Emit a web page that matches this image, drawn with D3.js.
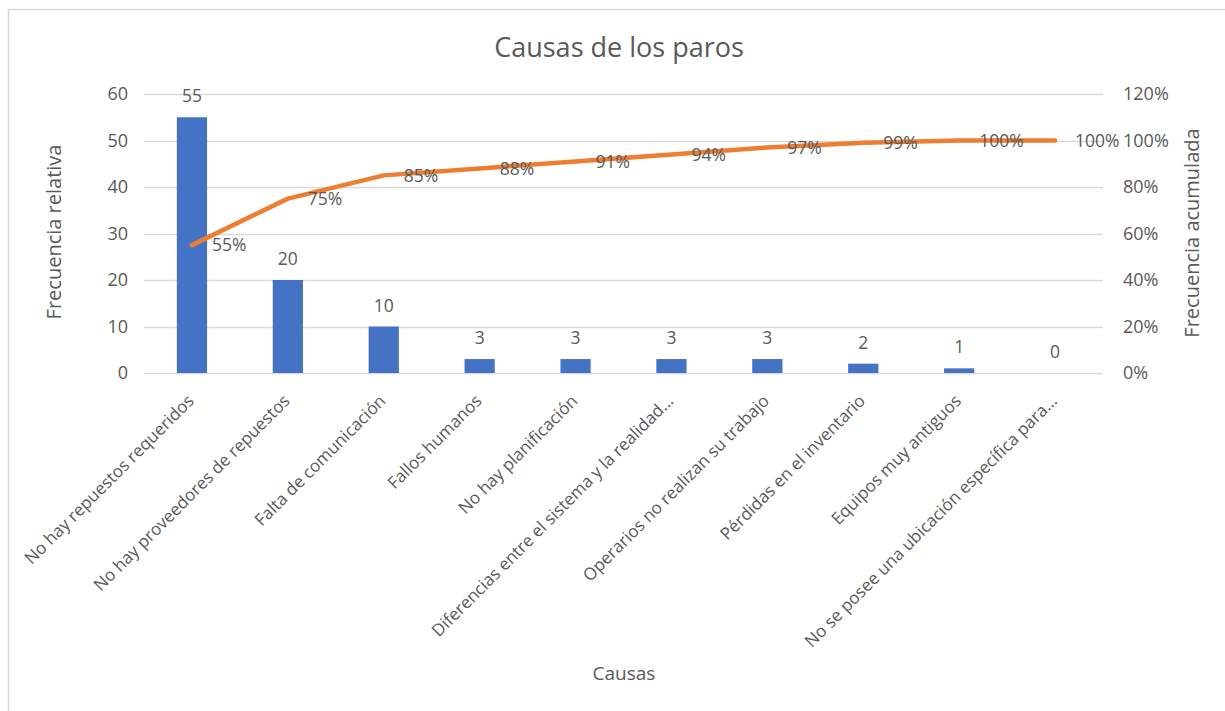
<!DOCTYPE html>
<html>
<head>
<meta charset="utf-8">
<script src="https://cdn.jsdelivr.net/npm/d3@7"></script>
<style>
  html, body { margin: 0; padding: 0; background: #fff; }
  svg { display: block; }
  svg text { font-family: "Open Sans", "Noto Sans", sans-serif; }
</style>
</head>
<body>
<svg id="chart" width="1225" height="711"></svg>
<script>
// Causes of stoppages, ordered by frequency (Pareto)
const causas = [
  "No hay repuestos requeridos",
  "No hay proveedores de repuestos",
  "Falta de comunicación",
  "Fallos humanos",
  "No hay planificación",
  "Diferencias entre el sistema y la realidad...",
  "Operarios no realizan su trabajo",
  "Pérdidas en el inventario",
  "Equipos muy antiguos",
  "No se posee una ubicación específica para..."
];
const frecuencia = [55, 20, 10, 3, 3, 3, 3, 2, 1, 0];
const acumulada = [0.55, 0.75, 0.85, 0.88, 0.91, 0.94, 0.97, 0.99, 1.00, 1.00];
const ticksIzq = [0, 10, 20, 30, 40, 50, 60];
const ticksDer = [0, 0.2, 0.4, 0.6, 0.8, 1.0, 1.2];

const svg = d3.select("#chart");
const W = 1225, H = 711;
const plot = { left: 144, right: 1103, top: 94, bottom: 373 };
const textColor = "#595959";
const font = '"Open Sans", "Noto Sans", sans-serif';

// chart area border
svg.append("rect")
  .attr("x", 8.5).attr("y", 9.5)
  .attr("width", W).attr("height", H)
  .attr("fill", "#fff").attr("stroke", "#d9d9d9").attr("stroke-width", 1.5);

const x = d3.scaleBand().domain(causas).range([plot.left, plot.right]).paddingInner(0.685).paddingOuter(0.3425);
const yL = d3.scaleLinear().domain([0, 60]).range([plot.bottom, plot.top]);
const yR = d3.scaleLinear().domain([0, 1.2]).range([plot.bottom, plot.top]);
const cx = d => x(d) + x.bandwidth() / 2;

// gridlines
svg.append("g").selectAll("line").data(ticksIzq).join("line")
  .attr("x1", plot.left).attr("x2", plot.right)
  .attr("y1", d => Math.round(yL(d)) + 0.5).attr("y2", d => Math.round(yL(d)) + 0.5)
  .attr("stroke", "#d9d9d9").attr("stroke-width", 1.5);

// left axis
const axL = svg.append("g").attr("transform", `translate(${plot.left},0)`)
  .call(d3.axisLeft(yL).tickValues(ticksIzq).tickSize(0).tickPadding(16));
axL.attr("font-family", font).attr("font-size", 18);
axL.select(".domain").remove();
axL.selectAll("text").attr("fill", textColor);

// right axis
const axR = svg.append("g").attr("transform", `translate(${plot.right},0)`)
  .call(d3.axisRight(yR).tickValues(ticksDer).tickSize(0).tickPadding(20).tickFormat(d3.format(".0%")));
axR.attr("font-family", font).attr("font-size", 18);
axR.select(".domain").remove();
axR.selectAll("text").attr("fill", textColor);

// category labels, rotated
const axB = svg.append("g").attr("transform", `translate(0,${plot.bottom})`)
  .call(d3.axisBottom(x).tickSize(0).tickPadding(0));
axB.attr("font-family", font).attr("font-size", 17);
axB.select(".domain").remove();
axB.selectAll("text")
  .attr("fill", textColor)
  .attr("text-anchor", "end")
  .attr("x", 0).attr("y", 0).attr("dy", null)
  .attr("transform", "translate(3,29) rotate(-45)");

// bars
svg.append("g").selectAll("rect").data(causas).join("rect")
  .attr("x", d => x(d)).attr("width", x.bandwidth())
  .attr("y", (d, i) => yL(frecuencia[i]))
  .attr("height", (d, i) => yL(0) - yL(frecuencia[i]))
  .attr("fill", "#4472c4");

// bar value labels
svg.append("g").selectAll("text").data(causas).join("text")
  .attr("x", d => cx(d))
  .attr("y", (d, i) => yL(frecuencia[i]) - 15)
  .attr("text-anchor", "middle")
  .attr("fill", textColor).style("font-size", "17.5px")
  .text((d, i) => frecuencia[i]);

// cumulative line
const line = d3.line().x((d, i) => cx(causas[i])).y(d => yR(d));
svg.append("path").datum(acumulada)
  .attr("d", line)
  .attr("fill", "none").attr("stroke", "#ed7d31")
  .attr("stroke-width", 4.5).attr("stroke-linecap", "round").attr("stroke-linejoin", "round");

// cumulative labels
svg.append("g").selectAll("text").data(acumulada).join("text")
  .attr("x", (d, i) => cx(causas[i]) + 20)
  .attr("y", d => yR(d))
  .attr("dy", "0.35em")
  .attr("fill", textColor).style("font-size", "17.5px")
  .text(d => d3.format(".0%")(d));

// title
svg.append("text").attr("x", 619).attr("y", 57)
  .attr("text-anchor", "middle").attr("fill", textColor)
  .style("font-size", "27px").text("Causas de los paros");

// axis titles
svg.append("text").attr("transform", "translate(61,232) rotate(-90)")
  .attr("text-anchor", "middle").attr("fill", textColor)
  .style("font-size", "20px").text("Frecuencia relativa");
svg.append("text").attr("transform", "translate(1199,233) rotate(-90)")
  .attr("text-anchor", "middle").attr("fill", textColor)
  .style("font-size", "20px").text("Frecuencia acumulada");
svg.append("text").attr("x", 624).attr("y", 680)
  .attr("text-anchor", "middle").attr("fill", textColor)
  .style("font-size", "19px").text("Causas");
</script>
</body>
</html>
